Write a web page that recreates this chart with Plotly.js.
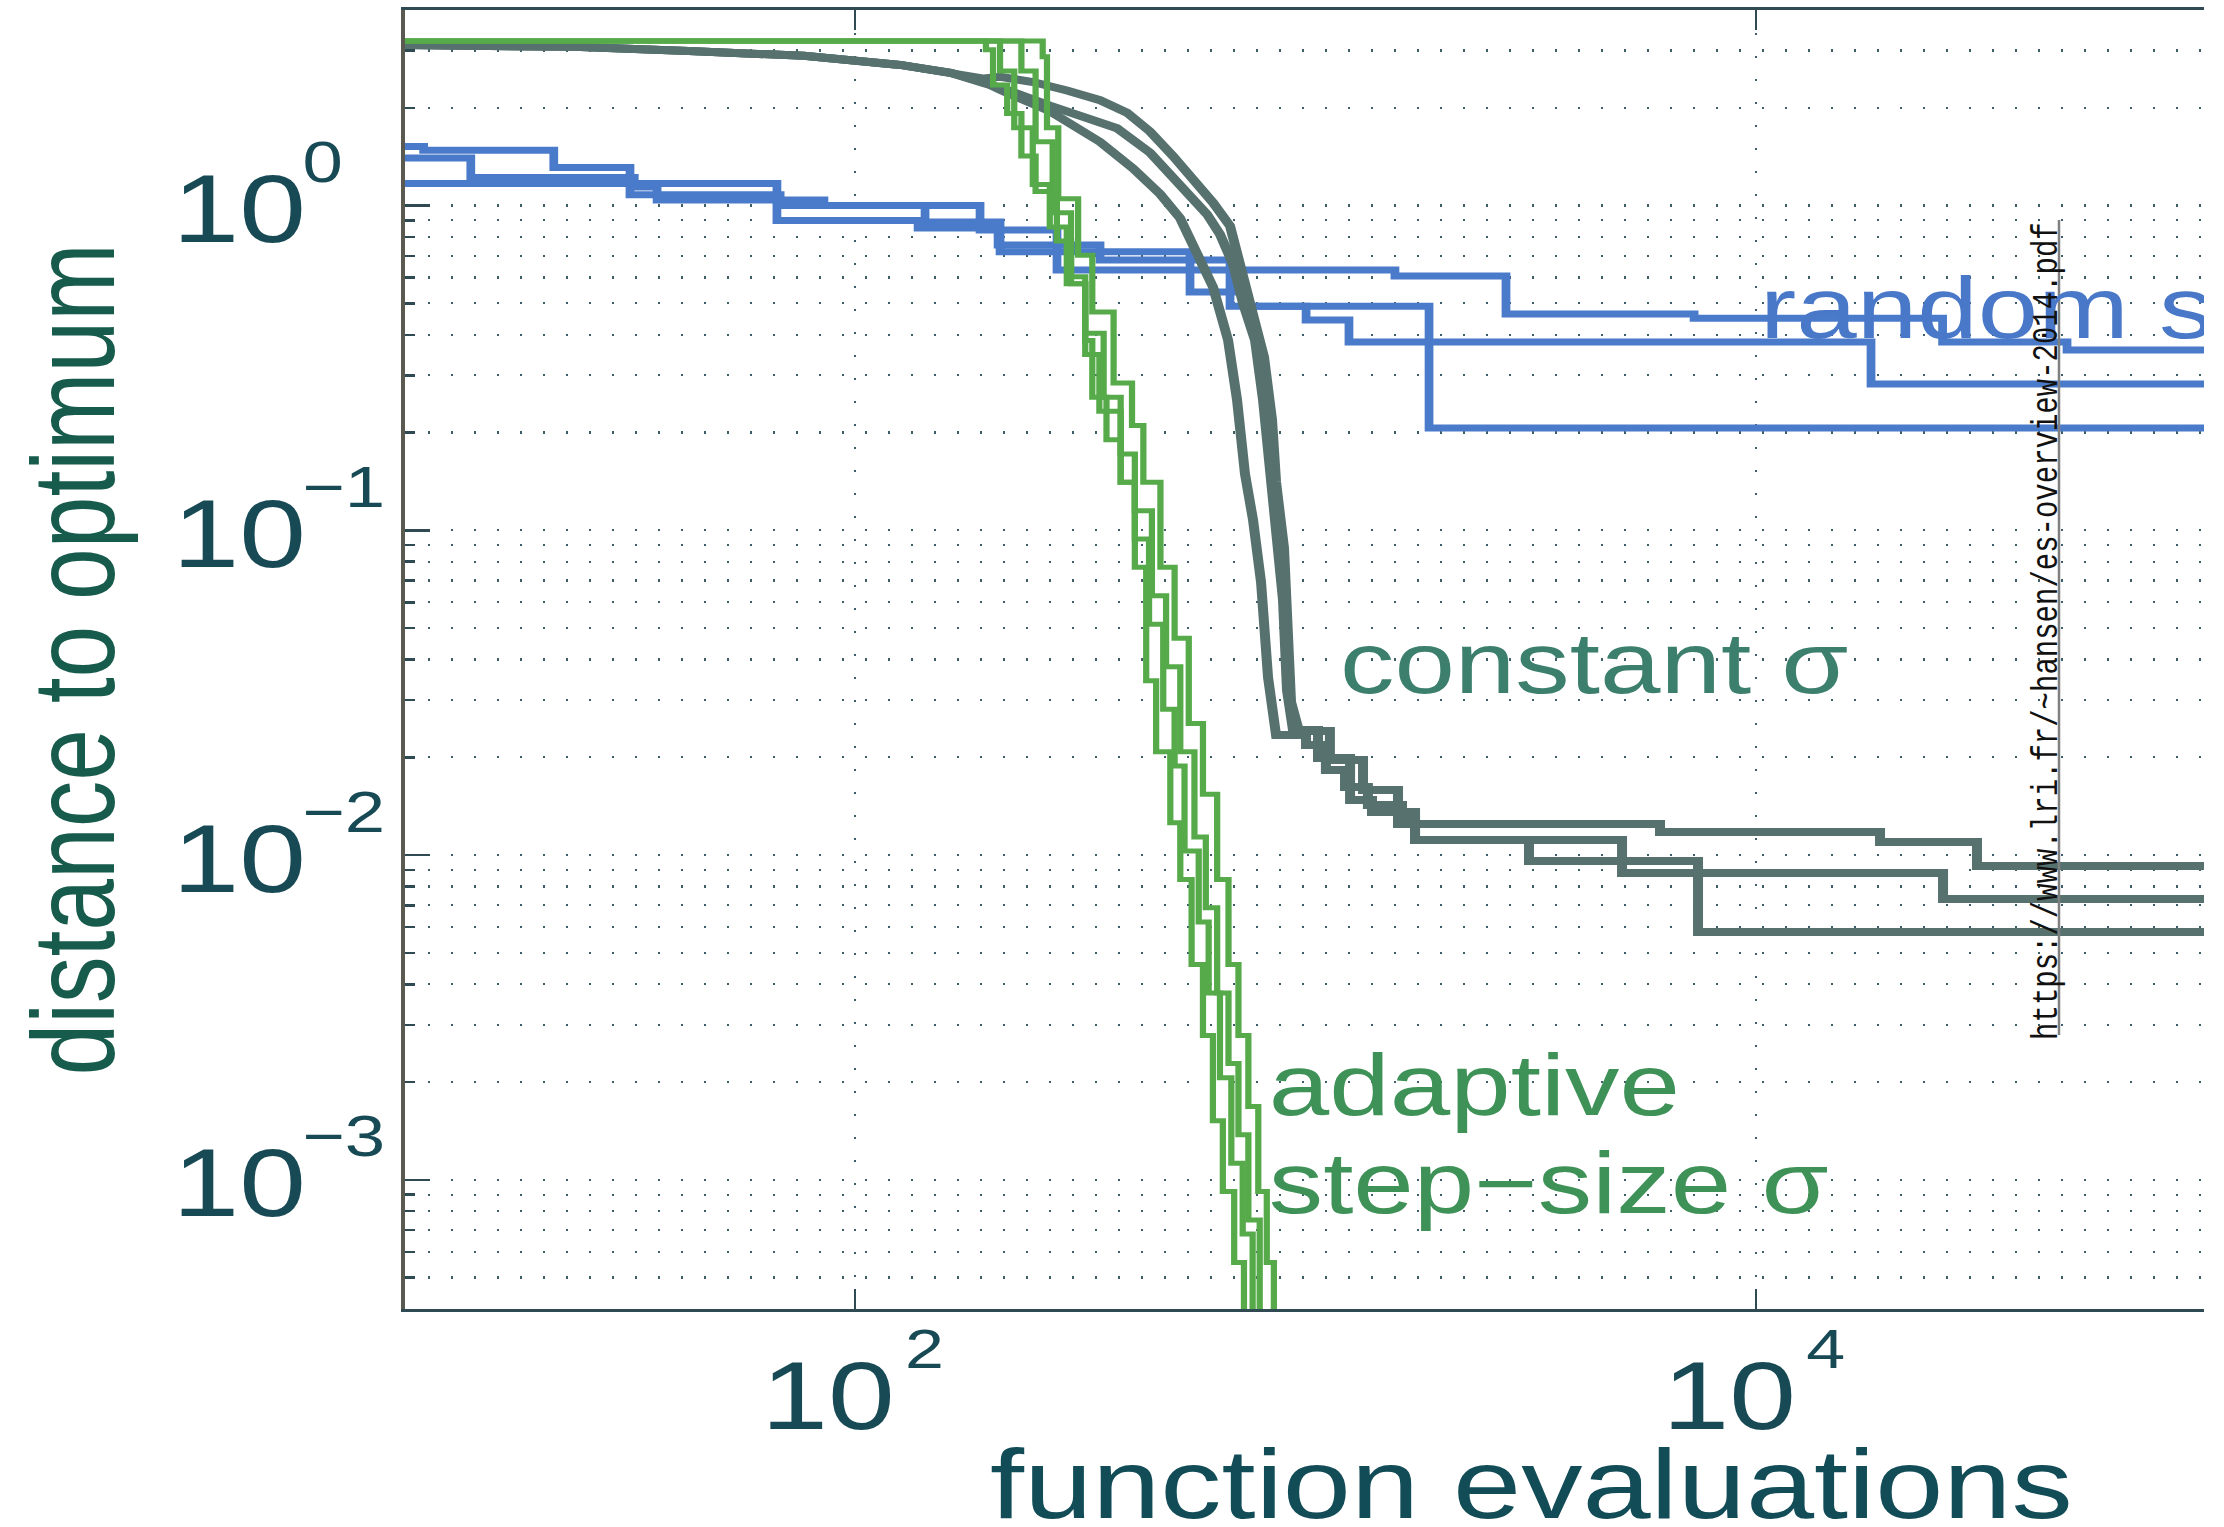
<!DOCTYPE html>
<html>
<head>
<meta charset="utf-8">
<script src="https://cdn.plot.ly/plotly-3.0.1.min.js"></script>
<style>
  html, body { margin: 0; padding: 0; background: #fff; overflow: hidden; }
  #frame { position: absolute; left: 0; top: 0; width: 2204px; height: 1527px; overflow: hidden; background: #fff; }
  #chart { width: 2145px; height: 1527px; transform: scaleX(1.25); transform-origin: 0 0; }
</style>
</head>
<body>
<div id="frame"><div id="chart"></div></div>
<script>
// ---- random search: best distance so far (step functions) ----
const rsA_evals = [10, 11, 21.4, 31.6, 68.1, 142.9, 209.7, 554, 1580, 2788, 7295, 26000, 49130, 100000];
const rsA_dist  = [1.52, 1.48, 1.31, 1.08, 1.00, 0.89, 0.72, 0.633, 0.607, 0.463, 0.450, 0.380, 0.359, 0.359];
const rsB_evals = [10, 14.0, 32.3, 36.3, 85.2, 189.3, 280.6, 554, 734, 1881, 100000];
const rsB_dist  = [1.40, 1.22, 1.14, 1.04, 1.00, 0.84, 0.633, 0.542, 0.49, 0.2065, 0.2065];
const rsC_evals = [10, 67.0, 137.9, 207.6, 349.7, 679.8, 1003, 1249, 18030, 100000];
const rsC_dist  = [1.17, 0.90, 0.852, 0.756, 0.68, 0.49, 0.444, 0.38, 0.282, 0.282];

// ---- constant step-size sigma ----
const cs1_evals = [10, 23.7, 42.7, 76.9, 125.8, 163.2, 193.2, 209.7, 248.2, 295.3, 349.7, 401.4, 451.5, 507.8, 562.6, 623.3, 679.8, 749.1, 808.9, 842.7, 860.2, 895.9, 909.8, 928.6, 967.2, 1133, 1133, 1342, 1342, 1605, 1605, 6129, 6129, 18880, 18880, 31000, 31000, 100000];
const cs1_dist  = [3.12, 3.08, 2.99, 2.89, 2.71, 2.56, 2.46, 2.49, 2.40, 2.26, 2.11, 1.93, 1.69, 1.42, 1.205, 1.02, 0.865, 0.501, 0.3415, 0.2185, 0.1408, 0.0882, 0.0584, 0.0296, 0.02408, 0.02408, 0.01961, 0.01961, 0.01585, 0.01585, 0.01246, 0.01246, 0.01177, 0.01177, 0.01096, 0.01096, 0.00925, 0.00925];
const cs2_evals = [10, 23.7, 42.7, 76.9, 125.8, 163.2, 193.2, 209.7, 270.7, 320.6, 381.4, 451.5, 534.5, 604.4, 645.9, 690.2, 726.5, 772.5, 804.8, 834.1, 869.0, 891.3, 909.8, 938.1, 1066, 1066, 1256, 1256, 1405, 1405, 1751, 1751, 5047, 5047, 26060, 26060, 100000];
const cs2_dist  = [3.12, 3.08, 2.99, 2.89, 2.71, 2.56, 2.38, 2.31, 2.03, 1.87, 1.73, 1.455, 1.125, 0.94, 0.815, 0.66, 0.50, 0.385, 0.252, 0.1533, 0.0933, 0.0610, 0.0322, 0.02426, 0.02426, 0.01989, 0.01989, 0.01477, 0.01477, 0.01356, 0.01356, 0.01112, 0.01112, 0.00880, 0.00880, 0.00732, 0.00732];
const cs3_evals = [10, 23.7, 42.7, 76.9, 125.8, 163.2, 193.2, 209.7, 270.7, 349.7, 414.0, 475.3, 526.4, 568.4, 623.3, 673.0, 704.6, 733.9, 764.6, 796.6, 825.6, 860.2, 1002.6, 1002.6, 1110, 1110, 1224, 1224, 1376, 1376, 1638, 1638, 1751, 1751, 3136, 3136, 7444, 7444, 100000];
const cs3_dist  = [3.12, 3.08, 2.99, 2.89, 2.71, 2.56, 2.40, 2.27, 1.95, 1.57, 1.30, 1.085, 0.915, 0.725, 0.561, 0.385, 0.252, 0.149, 0.1077, 0.0693, 0.0353, 0.02342, 0.02342, 0.02182, 0.02182, 0.01827, 0.01827, 0.01620, 0.01620, 0.01426, 0.01426, 0.01282, 0.01282, 0.01112, 0.01112, 0.00958, 0.00958, 0.00579, 0.00579];

// ---- adaptive step-size sigma ----
const ad1_evals = [10, 195.1, 202.3, 217.5, 233.9, 251.5, 280.4, 301.5, 324.2, 336.1, 361.4, 388.6, 417.8, 442.8, 465.9, 500.9, 527.1, 558.5, 591.9, 622.8, 655.2, 694.4, 730];
const ad1_dist  = [3.21, 3.02, 2.349, 1.920, 1.420, 1.105, 0.777, 0.574, 0.384, 0.2570, 0.1900, 0.1405, 0.0769, 0.0344, 0.02079, 0.01258, 0.00841, 0.00460, 0.00278, 0.00152, 0.000920, 0.000556, 0.00035];
const ad2_evals = [10, 209.7, 225.5, 247.9, 270.4, 295.0, 324.2, 348.5, 388.6, 417.8, 449.3, 483.1, 512.0, 538.7, 579.2, 609.4, 645.7, 684.4, 725.3, 763.1];
const ad2_dist  = [3.21, 2.597, 1.736, 1.161, 0.859, 0.574, 0.3475, 0.2324, 0.1405, 0.0940, 0.0514, 0.0281, 0.01880, 0.01028, 0.00622, 0.00376, 0.00206, 0.001125, 0.000681, 0.00035];
const ad3_evals = [10, 233.9, 251.5, 274.4, 301.5, 324.2, 356.2, 388.6, 417.8, 455.9, 490.2, 527.1, 566.7, 600.6, 636.5, 674.5, 709.7, 746.6, 791.3];
const ad3_dist  = [3.21, 2.597, 1.571, 0.950, 0.604, 0.404, 0.2570, 0.1718, 0.1149, 0.0629, 0.0380, 0.02079, 0.01137, 0.00688, 0.00376, 0.00228, 0.001376, 0.000752, 0.00035];
const ad4_evals = [10, 260.8, 266.6, 282.4, 312.6, 336.1, 374.8, 411.8, 436.4, 476.2, 512.0, 550.5, 591.9, 636.5, 674.5, 709.7, 746.6, 785.5, 820.4, 850.7];
const ad4_dist  = [3.21, 2.872, 1.736, 1.050, 0.703, 0.470, 0.2841, 0.2102, 0.1405, 0.0769, 0.0465, 0.0254, 0.01538, 0.00841, 0.00460, 0.00278, 0.00168, 0.000920, 0.000556, 0.00035];

// ---- ticks and labels ----
const xTickVals = [1e2, 1e4];
const xTickExp  = ['2', '4'];
const yTickVals = [1e-3, 1e-2, 1e-1, 1];
const yTickExp  = ['\u22123', '\u22122', '\u22121', '0'];
const tickBase  = '10';
const xTitle = 'function evaluations';
const yTitle = 'distance to optimum';
const seriesLabels = ['random search', 'constant \u03c3', 'adaptive', 'step\u2212size \u03c3'];
const sourceNote = 'https://www.lri.fr/~hansen/es-overview-2014.pdf';

const SANS = 'Liberation Sans, Arial, Helvetica, sans-serif';
const COL_RANDOM = '#4a7bca';
const COL_CONST = '#56716e';
const COL_ADAPT = '#56aa4a';

function run(xs, ys, color, width, shape) {
  return { x: xs, y: ys, type: 'scatter', mode: 'lines',
           line: { color: color, width: width, shape: shape },
           hoverinfo: 'skip' };
}

const traces = [
  run(rsA_evals, rsA_dist, COL_RANDOM, 7, 'hv'),
  run(rsB_evals, rsB_dist, COL_RANDOM, 7, 'hv'),
  run(rsC_evals, rsC_dist, COL_RANDOM, 7, 'hv'),
  run(cs1_evals, cs1_dist, COL_CONST, 8, 'linear'),
  run(cs2_evals, cs2_dist, COL_CONST, 8, 'linear'),
  run(cs3_evals, cs3_dist, COL_CONST, 8, 'linear'),
  run(ad1_evals, ad1_dist, COL_ADAPT, 5, 'hv'),
  run(ad2_evals, ad2_dist, COL_ADAPT, 5, 'hv'),
  run(ad3_evals, ad3_dist, COL_ADAPT, 5, 'hv'),
  run(ad4_evals, ad4_dist, COL_ADAPT, 5, 'hv')
];

const TICK_COL = '#184a55';
const annotations = [];

// y tick labels: "10" with a raised exponent, left aligned
yTickVals.forEach((v, i) => {
  annotations.push({ xref: 'paper', x: 0, xanchor: 'left', xshift: -188,
    yref: 'y', y: Math.log10(v), yanchor: 'middle', yshift: -3,
    text: tickBase, showarrow: false, font: { family: SANS, size: 96, color: TICK_COL } });
  annotations.push({ xref: 'paper', x: 0, xanchor: 'left', xshift: -84,
    yref: 'y', y: Math.log10(v), yanchor: 'middle', yshift: 44,
    text: yTickExp[i], showarrow: false, font: { family: SANS, size: 58, color: TICK_COL } });
});

// x tick labels
xTickVals.forEach((v, i) => {
  annotations.push({ xref: 'x', x: Math.log10(v), xanchor: 'right', xshift: 34,
    yref: 'paper', y: 0, yanchor: 'middle', yshift: -86,
    text: tickBase, showarrow: false, font: { family: SANS, size: 96, color: TICK_COL } });
  annotations.push({ xref: 'x', x: Math.log10(v), xanchor: 'left', xshift: 38,
    yref: 'paper', y: 0, yanchor: 'middle', yshift: -39,
    text: xTickExp[i], showarrow: false, font: { family: SANS, size: 56, color: TICK_COL } });
});

// axis titles
annotations.push({ xref: 'paper', x: 0.5, xanchor: 'center', yref: 'paper', y: 0,
  yanchor: 'middle', yshift: -175, text: xTitle, showarrow: false,
  font: { family: SANS, size: 98, color: '#124c57' } });
annotations.push({ xref: 'paper', x: 0, xanchor: 'center', xshift: -265,
  yref: 'paper', y: 0.5, yanchor: 'middle', textangle: -90, text: yTitle, showarrow: false,
  font: { family: SANS, size: 93, color: '#175b4c' } });

// series labels
annotations.push({ xref: 'x', x: 4.004, xanchor: 'left', yref: 'y', y: -0.3125, yanchor: 'middle',
  text: seriesLabels[0], showarrow: false, font: { family: SANS, size: 87, color: '#4a78c8' } });
annotations.push({ xref: 'x', x: 3.07, xanchor: 'left', yref: 'y', y: -1.4057, yanchor: 'middle',
  text: seriesLabels[1], showarrow: false, font: { family: SANS, size: 87, color: '#3c7f6c' } });
annotations.push({ xref: 'x', x: 2.912, xanchor: 'left', yref: 'y', y: -2.708, yanchor: 'middle',
  text: seriesLabels[2], showarrow: false, font: { family: SANS, size: 87, color: '#3f9257' } });
annotations.push({ xref: 'x', x: 2.912, xanchor: 'left', yref: 'y', y: -3.007, yanchor: 'middle',
  text: seriesLabels[3], showarrow: false, font: { family: SANS, size: 87, color: '#3f9257' } });

// source note, vertical
annotations.push({ xref: 'paper', x: 0.7296, xanchor: 'center', yref: 'paper', y: 0.5219, yanchor: 'middle',
  textangle: -90, text: sourceNote, showarrow: false,
  font: { family: 'Liberation Mono, Courier New, monospace', size: 29, color: '#111' } });

const GRID_COL = '#3e5f68';
const AX_COL = '#2f4a52';

const layout = {
  width: 2145, height: 1527,
  margin: { l: 324, r: 20, t: 10, b: 218 },
  paper_bgcolor: '#ffffff', plot_bgcolor: '#ffffff',
  showlegend: false,
  xaxis: {
    type: 'log', range: [1, 6], tickmode: 'array', tickvals: xTickVals, showticklabels: false,
    ticks: 'inside', ticklen: 20, tickwidth: 1.6, tickcolor: AX_COL,
    showline: true, linecolor: AX_COL, linewidth: 3, mirror: 'ticks',
    showgrid: true, gridcolor: GRID_COL, gridwidth: 1.6, griddash: '2px,21px',
    zeroline: false, fixedrange: true
  },
  yaxis: {
    type: 'log', range: [Math.log10(4e-4), Math.log10(4)], tickmode: 'array', tickvals: yTickVals,
    showticklabels: false,
    ticks: 'inside', ticklen: 20, tickwidth: 2.5, tickcolor: AX_COL,
    showline: true, linecolor: '#5a5a50', linewidth: 3, mirror: 'ticks',
    showgrid: true, gridcolor: GRID_COL, gridwidth: 2.2, griddash: '1.8px,16.6px',
    minor: { dtick: 'D1', ticks: 'inside', ticklen: 8, tickwidth: 2.5, tickcolor: AX_COL,
             showgrid: true, gridcolor: GRID_COL, gridwidth: 2.2, griddash: '1.8px,16.6px' },
    zeroline: false, fixedrange: true
  },
  annotations: annotations,
  shapes: [
    { type: 'line', xref: 'paper', yref: 'paper', x0: 0.7347, x1: 0.7347, y0: 0.2109, y1: 0.8383,
      line: { color: '#808080', width: 2 } }
  ]
};

Plotly.newPlot('chart', traces, layout, { staticPlot: true, displayModeBar: false });
</script>
</body>
</html>
